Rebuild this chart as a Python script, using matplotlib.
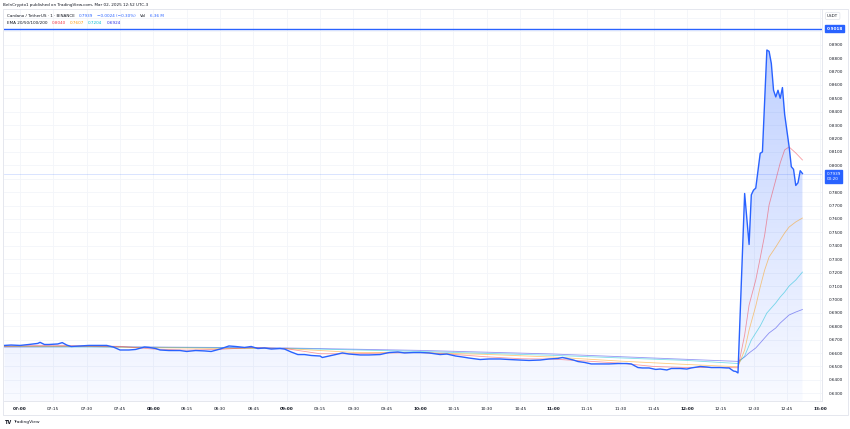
import matplotlib
matplotlib.use("Agg")
import matplotlib.pyplot as plt
import matplotlib.dates as mdates
from matplotlib.patches import Rectangle
import numpy as np
import pandas as pd

DAY = "2025-03-02 "

# ADA/USDT 1-minute closes
price_times = [
    "06:53", "06:56", "07:00", "07:04", "07:08", "07:09", "07:11", "07:13", "07:17", "07:19",
    "07:21", "07:23", "07:27", "07:31", "07:36", "07:39", "07:42", "07:45", "07:49", "07:52",
    "07:56", "07:58", "08:01", "08:03", "08:07", "08:12", "08:15", "08:19", "08:23", "08:26",
    "08:30", "08:34", "08:37", "08:41", "08:44", "08:47", "08:50", "08:53", "08:57", "08:59",
    "09:02", "09:05", "09:08", "09:11", "09:15", "09:16", "09:19", "09:22", "09:25", "09:28",
    "09:33", "09:37", "09:42", "09:46", "09:50", "09:53", "09:57", "10:00", "10:04", "10:09",
    "10:12", "10:16", "10:19", "10:22", "10:27", "10:31", "10:36", "10:40", "10:45", "10:49",
    "10:54", "10:58", "11:02", "11:04", "11:06", "11:09", "11:11", "11:14", "11:17", "11:21",
    "11:25", "11:29", "11:33", "11:35", "11:38", "11:40", "11:43", "11:46", "11:48", "11:51",
    "11:53", "11:57", "12:00", "12:02", "12:06", "12:09", "12:11", "12:15", "12:18", "12:19",
    "12:21", "12:22", "12:23", "12:26", "12:28", "12:29", "12:30", "12:31", "12:33", "12:34",
    "12:36", "12:37", "12:38", "12:39", "12:40", "12:41", "12:42", "12:43", "12:44", "12:45",
    "12:46", "12:47", "12:48", "12:49", "12:50", "12:51", "12:52",
]
price_values = [
    0.6657, 0.6660, 0.6657, 0.6664, 0.6672, 0.6680, 0.6664, 0.6664, 0.6668, 0.6678,
    0.6660, 0.6649, 0.6653, 0.6657, 0.6657, 0.6657, 0.6645, 0.6623, 0.6623, 0.6627,
    0.6645, 0.6642, 0.6634, 0.6623, 0.6619, 0.6619, 0.6612, 0.6619, 0.6616, 0.6612,
    0.6630, 0.6653, 0.6649, 0.6642, 0.6649, 0.6634, 0.6638, 0.6630, 0.6634, 0.6630,
    0.6608, 0.6589, 0.6589, 0.6582, 0.6578, 0.6567, 0.6578, 0.6589, 0.6601, 0.6593,
    0.6586, 0.6586, 0.6589, 0.6604, 0.6608, 0.6601, 0.6604, 0.6604, 0.6601, 0.6589,
    0.6593, 0.6578, 0.6571, 0.6563, 0.6552, 0.6556, 0.6556, 0.6552, 0.6548, 0.6545,
    0.6548, 0.6556, 0.6560, 0.6567, 0.6560, 0.6548, 0.6537, 0.6530, 0.6519, 0.6519,
    0.6519, 0.6522, 0.6522, 0.6519, 0.6492, 0.6489, 0.6489, 0.6478, 0.6481, 0.6474,
    0.6485, 0.6485, 0.6481, 0.6489, 0.6500, 0.6496, 0.6492, 0.6492, 0.6489, 0.6489,
    0.6466, 0.6463, 0.6452, 0.7790, 0.7410, 0.7780, 0.7815, 0.7830, 0.8090, 0.8100,
    0.8860, 0.8850, 0.8760, 0.8560, 0.8510, 0.8560, 0.8500, 0.8580, 0.8380, 0.8260,
    0.8140, 0.7990, 0.7970, 0.7850, 0.7870, 0.7960, 0.7939,
]

# EMA curves
ema20_times = ["06:53", "07:15", "07:45", "08:00", "08:15", "08:30", "08:45", "09:00", "09:15",
               "09:30", "09:45", "10:00", "10:15", "10:30", "10:45", "11:00", "11:15", "11:30",
               "11:45", "12:00", "12:15", "12:23", "12:26", "12:28", "12:31", "12:33", "12:35",
               "12:37", "12:40", "12:42", "12:44", "12:46", "12:49", "12:52"]
ema20_values = [0.6652, 0.6658, 0.6650, 0.6630, 0.6622, 0.6628, 0.6642, 0.6632, 0.6595,
                0.6595, 0.6600, 0.6605, 0.6590, 0.6572, 0.6558, 0.6555, 0.6540, 0.6525,
                0.6500, 0.6492, 0.6494, 0.6490, 0.6735, 0.6958, 0.7145, 0.7309, 0.7480,
                0.7705, 0.7891, 0.8018, 0.8115, 0.8137, 0.8092, 0.8040]

ema50_times = ["06:53", "07:30", "08:00", "08:30", "09:00", "09:30", "10:00", "10:30", "11:00",
               "11:30", "12:00", "12:23", "12:26", "12:28", "12:31", "12:33", "12:35", "12:37",
               "12:40", "12:42", "12:44", "12:46", "12:49", "12:52"]
ema50_values = [0.6650, 0.6650, 0.6640, 0.6635, 0.6633, 0.6605, 0.6603, 0.6590, 0.6570,
                0.6540, 0.6515, 0.6498, 0.6623, 0.6772, 0.6951, 0.7093, 0.7219, 0.7317,
                0.7391, 0.7444, 0.7496, 0.7540, 0.7578, 0.7607]

ema100_times = ["06:53", "08:00", "09:00", "10:00", "11:00", "12:00", "12:23", "12:26", "12:29",
                "12:33", "12:36", "12:40", "12:42", "12:44", "12:46", "12:49", "12:52"]
ema100_values = [0.6648, 0.6643, 0.6635, 0.6612, 0.6583, 0.6545, 0.6522, 0.6578, 0.6697,
                 0.6802, 0.6899, 0.6974, 0.7018, 0.7055, 0.7100, 0.7145, 0.7204]

ema200_times = ["06:53", "07:30", "08:00", "08:30", "09:00", "10:00", "11:00", "12:23", "12:26",
                "12:28", "12:31", "12:33", "12:35", "12:37", "12:40", "12:42", "12:44", "12:46",
                "12:49", "12:52"]
ema200_values = [0.6645, 0.6648, 0.6645, 0.6642, 0.6638, 0.6620, 0.6593, 0.6538, 0.6571,
                 0.6601, 0.6638, 0.6675, 0.6713, 0.6750, 0.6787, 0.6824, 0.6854, 0.6884,
                 0.6906, 0.6925]

ema_colors = ["#f23645", "#ff9800", "#00bcd4", "#2a2ee8"]
high_line = 0.9018
last_price = 0.7939
price_ticks = [round(0.63 + 0.01 * i, 2) for i in range(27)]

BLUE = "#2962ff"
TXT = "#131722"
GRID = "#f3f5fa"


def ts(lst):
    return mdates.date2num(pd.to_datetime([DAY + t for t in lst]))


W, H = 850, 429
fig = plt.figure(figsize=(W / 100, H / 100), dpi=100)
plt.rcParams["font.family"] = ["DejaVu Sans"]

L, R, T, B = 4, 822, 9, 401
ax = fig.add_axes([L / W, 1 - B / H, (R - L) / W, (B - T) / H])
ax.set_facecolor("white")

x = ts(price_times)
y = np.array(price_values)

ymin, ymax = 0.62426, 0.91658
xmin = mdates.date2num(pd.Timestamp(DAY + "06:52:48"))
xmax = mdates.date2num(pd.Timestamp(DAY + "13:00:48"))

# grid
for v in price_ticks + [0.90, 0.91]:
    ax.axhline(v, color=GRID, lw=0.6, zorder=0)
xt = pd.date_range(DAY + "07:00", DAY + "13:00", freq="15min")
for t in mdates.date2num(xt):
    ax.axvline(t, color=GRID, lw=0.6, zorder=0)

# gradient area under price
poly = ax.fill_between(x, y, ymin, color="none", lw=0)
top_a, bot_a = 0.30, 0.03
grad = np.linspace(bot_a, top_a, 256).reshape(-1, 1)
rgba = np.zeros((256, 1, 4))
rgba[..., 0] = 41 / 255
rgba[..., 1] = 98 / 255
rgba[..., 2] = 1.0
rgba[..., 3] = grad
im = ax.imshow(rgba, extent=[xmin, xmax, ymin, 0.89], origin="lower",
               aspect="auto", zorder=1, interpolation="bilinear")
im.set_clip_path(poly.get_paths()[0], transform=ax.transData)

# EMAs
for tl, vl, c in [(ema200_times, ema200_values, ema_colors[3]),
                  (ema100_times, ema100_values, ema_colors[2]),
                  (ema50_times, ema50_values, ema_colors[1]),
                  (ema20_times, ema20_values, ema_colors[0])]:
    ax.plot(ts(tl), vl, color=c, lw=0.6, alpha=0.5, zorder=2)

# price
ax.plot(x, y, color=BLUE, lw=1.0, zorder=3, solid_joinstyle="round")

# horizontal lines
ax.axhline(high_line, color=BLUE, lw=1.0, zorder=3)
ax.axhline(last_price, color=BLUE, lw=0.6, alpha=0.2, zorder=2)

ax.set_xlim(xmin, xmax)
ax.set_ylim(ymin, ymax)

# y axis on the right
ax.yaxis.tick_right()
ax.set_yticks(price_ticks)
ax.set_yticklabels(["" if v in (0.79,) else f"{v:.4f}" for v in price_ticks])
ax.tick_params(axis="y", length=0, pad=5, labelsize=3.0, labelcolor=TXT)

ax.set_xticks(mdates.date2num(xt))
ax.set_xticklabels([t.strftime("%H:%M") for t in xt])
ax.tick_params(axis="x", length=0, pad=4.5, labelsize=3.1, labelcolor=TXT)
for lab, t in zip(ax.get_xticklabels(), xt):
    if t.minute == 0:
        lab.set_fontweight("bold")

for s in ["left", "top"]:
    ax.spines[s].set_visible(False)
for s in ["right", "bottom"]:
    ax.spines[s].set_color("#e0e3eb")
    ax.spines[s].set_linewidth(0.6)

# price labels on the axis
ax.text(1.0055, high_line, f"{high_line:.4f}", transform=ax.get_yaxis_transform(),
        ha="left", va="center", fontsize=3.0, color="white", fontweight="bold",
        bbox=dict(boxstyle="square,pad=0.35", fc=BLUE, ec=BLUE), zorder=5, clip_on=False)
ax.text(1.0055, last_price + 0.0012, f"{last_price:.4f}\n00:20", transform=ax.get_yaxis_transform(),
        ha="left", va="top", fontsize=3.0, color="white", linespacing=1.5,
        bbox=dict(boxstyle="square,pad=0.35", fc=BLUE, ec=BLUE), zorder=5, clip_on=False)
fig.text(827 / W, 1 - 16 / H, "USDT", fontsize=3.0, color=TXT, ha="left", va="center",
         bbox=dict(boxstyle="round,pad=0.4", fc="white", ec="#e0e3eb", lw=0.5))

# outer frame
fig.add_artist(Rectangle((3 / W, 1 - 415 / H), 845 / W, 406 / H, transform=fig.transFigure,
                         fill=False, ec="#e0e3eb", lw=0.6))

# header texts, laid out left to right
renderer = fig.canvas.get_renderer()


def text_row(parts, x0, ypx, size=3.0, gap=4):
    xpx = x0
    for s, c in parts:
        t = fig.text(xpx / W, 1 - ypx / H, s, fontsize=size, color=c, ha="left", va="center")
        xpx += t.get_window_extent(renderer).width + gap


fig.text(3 / W, 1 - 5 / H, "BeInCrypto1 published on TradingView.com, Mar 02, 2025 12:52 UTC-3",
         fontsize=3.0, color=TXT, ha="left", va="center")
text_row([("Cardano / TetherUS · 1 · BINANCE", TXT), ("0.7939", BLUE),
          ("−0.0024 (−0.30%)", BLUE), ("Vol", TXT), ("6.36 M", BLUE)], 7, 16)
text_row([("EMA 20/50/100/200", TXT), ("0.8040", ema_colors[0]), ("0.7607", ema_colors[1]),
          ("0.7204", ema_colors[2]), ("0.6924", ema_colors[3])], 7, 23)

# footer logo
fig.text(5 / W, 1 - 422 / H, "TV", fontsize=3.6, fontweight="bold", color=TXT, ha="left", va="center")
fig.text(13 / W, 1 - 422 / H, "TradingView", fontsize=3.2, color=TXT, ha="left", va="center")

fig.savefig("out.png", dpi=100)
